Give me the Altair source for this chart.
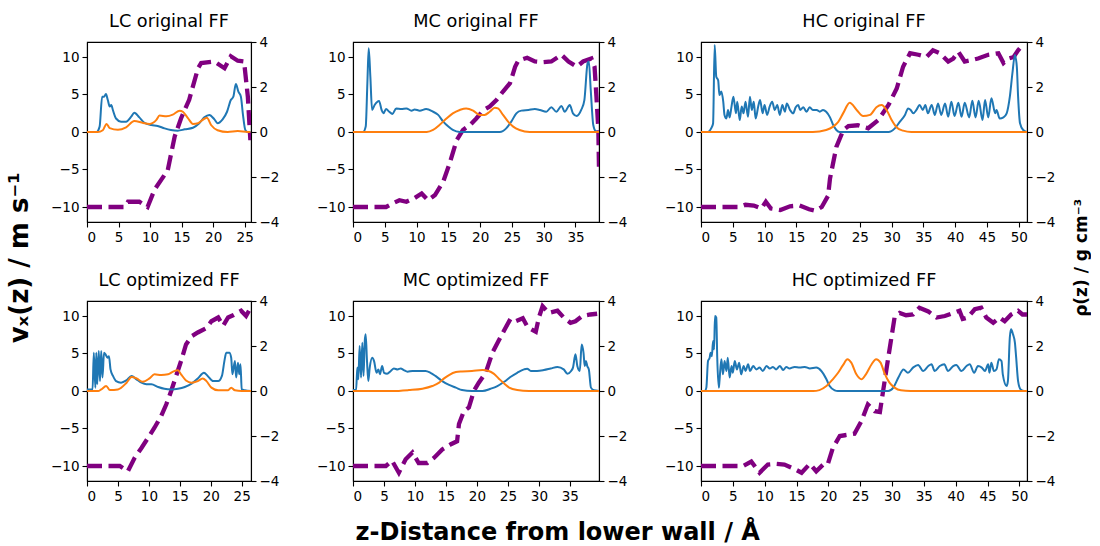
import altair as alt
import pandas as pd

# ---------------- data ----------------
# velocity profiles v_x(z) [m/s]  (left axis), pairs of (z, v)
LC_ORIG_V = [(0, -10), (6, -10), (6.5, -9.3), (8.3, -9.3), (9.6, -10), (10.7, -7.7), (12.8, -5.1),
             (13.9, -0.6), (14.9, 1.8), (16.2, 4.3), (17.6, 8.5), (18.1, 9.2), (20.2, 9.4), (21.8, 8.5),
             (22.8, 10.1), (23.9, 9.5), (24.9, 9.4), (25.5, 4.7), (25.9, -1.1)]
MC_ORIG_V = [(0, -10), (5.2, -10), (6.3, -9.5), (7.3, -9.1), (8.4, -9.3), (9.7, -8.8), (10.8, -8.2),
             (11.8, -9.1), (12.9, -8.4), (14.2, -6.6), (15.2, -4.2), (16.3, -1.1), (17.3, 0.27),
             (18.4, 0.93), (19.4, 1.8), (20.5, 2.9), (21.5, 3.4), (22.6, 4.3), (23.6, 5.4), (24.7, 6.5),
             (25.5, 8.7), (26.0, 9.5), (27.4, 9.9), (28.6, 9.4), (29.9, 9.3), (31.2, 9.4), (32.8, 10.3),
             (33.9, 9.4), (35.2, 8.7), (36.2, 9.4), (37.5, 9.8), (38.0, 8.7), (38.3, 4.7), (38.6, 0.27),
             (38.7, -5.1)]
HC_ORIG_V = [(0, -10), (6, -10), (7, -9.7), (8.3, -9.8), (9.5, -10.2), (10.2, -9.3), (11, -10.2),
             (12.5, -10.4), (14, -9.9), (15.5, -9.8), (17, -10.3), (18, -10.5), (19, -10.0), (20, -8.5),
             (20.3, -6.2), (21.3, -2.0), (22.4, 0.27), (23.2, 0.8), (24.7, 0.9), (26.3, 0.5), (27.9, 1.6),
             (29.5, 3.6), (30.8, 5.8), (31.8, 8.7), (32.9, 10.5), (34.2, 10.3), (35.5, 10.0), (36.5, 10.9),
             (37.6, 10.5), (38.9, 9.4), (39.7, 9.8), (40.5, 10.7), (41.5, 9.4), (42.6, 9.6), (43.6, 9.8),
             (45.2, 10.3), (46.8, 10.5), (47.6, 9.2), (48.4, 9.8), (49.2, 10.0), (49.9, 10.9), (50.2, 11.2)]
LC_OPT_V = [(0, -10), (5.3, -10), (6.6, -10.7), (7.7, -8.9), (8.8, -7.6), (9.9, -6.2), (10.9, -4.9),
            (12.0, -3.3), (12.8, -1.8), (13.6, 0), (14.4, 2.0), (15.2, 4.0), (16.0, 6.2), (16.9, 7.3),
            (17.9, 7.8), (19.3, 8.4), (20.1, 9.3), (21.2, 9.8), (22.0, 8.7), (22.8, 9.8), (23.6, 10.1),
            (24.9, 10.7), (25.7, 10.0), (26.3, 10.9)]
MC_OPT_V = [(0, -10), (5.3, -10), (6.3, -9.3), (7.4, -10.9), (8.5, -9.1), (9.6, -8.2), (10.6, -9.6),
            (12.0, -9.6), (13.1, -8.9), (14.4, -7.8), (15.8, -7.1), (16.8, -6.7), (17.1, -4.4), (17.9, -2.7),
            (18.7, -2.2), (19.5, 0), (20.3, 1.1), (21.4, 2.4), (22.5, 5.1), (23.5, 6.7), (24.6, 8.4),
            (25.4, 9.6), (26.2, 9.3), (27.4, 9.7), (28.2, 8.5), (29.5, 7.9), (30.0, 9.8), (30.6, 11.3),
            (31.6, 10.4), (33.0, 10.7), (34.0, 9.8), (35.1, 9.1), (35.9, 9.3), (37.0, 10.0), (38.3, 10.2),
            (39.4, 10.3)]
HC_OPT_V = [(0, -10), (6.6, -10), (7.9, -9.4), (9.2, -10.9), (10.5, -9.8), (11.8, -9.7), (13.1, -9.8),
            (14.7, -10.4), (15.8, -10.9), (17.1, -9.7), (18.1, -10.7), (19.2, -9.8), (19.9, -9.8),
            (20.7, -7.6), (21.8, -6.0), (22.6, -5.9), (24.1, -5.7), (25.2, -4.0), (26.2, -1.8), (27.3, -2.7),
            (28.1, -2.8), (28.6, 0), (29.4, 4.4), (30.4, 9.8), (31.2, 10.4), (32.2, 10.1), (33.3, 10.2),
            (34.3, 11.1), (35.7, 10.6), (37.0, 9.8), (38.3, 10.0), (39.6, 10.4), (40.6, 10.7), (41.1, 9.6),
            (41.9, 9.8), (43.0, 10.9), (44.0, 11.1), (44.8, 9.8), (45.9, 9.1), (46.9, 9.8), (47.7, 9.3),
            (48.7, 10.2), (49.8, 10.7), (50.5, 10.2), (51.2, 10.2)]

# density profiles rho(z) [g/cm3] (right axis): blue series
LC_ORIG_B = [(0, 0), (1.5, 0), (2.0, 0.24), (2.4, 1.57), (2.7, 1.57), (3.0, 1.69), (3.3, 1.42), (3.6, 1.13),
             (3.85, 1.2), (4.1, 0.98), (4.6, 0.6), (5.4, 0.46), (6.2, 0.46), (7.0, 0.68), (7.5, 0.86),
             (8.3, 0.65), (9.1, 0.41), (10.2, 0.31), (11.2, 0.27), (12.3, 0.16), (13.3, 0.09), (14.4, 0.06),
             (15.5, 0.12), (16.8, 0.19), (17.8, 0.39), (18.6, 0.65), (19.4, 0.76), (20.2, 0.56), (20.7, 0.39),
             (21.5, 0.56), (22.2, 0.9), (22.8, 1.42), (23.2, 1.57), (23.6, 2.13), (24.0, 1.79), (24.4, 1.57),
             (24.7, 0.83), (25.1, 0.09), (25.5, 0), (25.9, 0)]
MC_ORIG_B = [(0, 0), (1.6, 0), (2.0, 0.24), (2.26, 2.16), (2.47, 3.72), (2.73, 2.46), (3.0, 0.98), (3.4, 1.2),
             (4.1, 1.38), (4.5, 0.98), (4.8, 0.83), (5.2, 1.02), (5.7, 0.9), (6.2, 0.8), (6.8, 1.05),
             (7.6, 1.02), (8.4, 1.05), (9.2, 0.95), (9.7, 1.0), (10.5, 0.95), (11.5, 1.02), (12.6, 0.9),
             (13.4, 0.76), (14.2, 0.46), (15.0, 0.24), (15.7, 0.09), (16.8, 0.0), (23.1, 0.0), (24.1, 0.16),
             (24.9, 0.46), (25.7, 0.83), (26.5, 0.95), (27.6, 0.98), (28.6, 1.02), (29.4, 0.98), (30.4, 0.9),
             (31.2, 1.1), (32.0, 0.9), (32.8, 1.16), (33.3, 0.9), (34.1, 1.2), (34.6, 0.83), (35.2, 0.71),
             (35.9, 0.98), (36.4, 1.42), (36.9, 3.05), (37.1, 3.13), (37.4, 1.87), (37.8, 0.31), (38.2, 0.03),
             (38.7, 0)]
HC_ORIG_B = [(0, 0), (1.1, 0), (1.6, 0.16), (1.9, 0.38), (2.15, 3.87), (2.4, 2.46), (2.7, 2.3), (2.9, 1.64),
             (3.2, 1.8), (3.5, 1.35), (3.7, 0.76), (4.0, 0.6), (4.25, 0.98), (4.5, 0.65), (4.8, 1.13),
             (5.1, 1.57), (5.5, 0.83), (5.7, 1.35), (6.1, 0.53), (6.4, 1.13), (6.7, 0.83), (7.0, 1.35),
             (7.4, 0.68), (7.7, 1.57), (8.0, 0.98), (8.3, 1.35), (8.6, 0.6), (9.0, 1.13), (9.3, 1.42),
             (9.7, 0.83), (10.0, 1.2), (10.4, 0.76), (10.8, 1.13), (11.2, 1.35), (11.6, 0.98), (12.0, 1.2),
             (12.4, 0.76), (12.8, 1.2), (13.2, 0.9), (13.5, 1.27), (14.0, 0.98), (14.5, 0.83), (14.9, 1.1),
             (15.3, 1.2), (15.6, 0.98), (16.1, 1.1), (16.6, 0.9), (17.1, 1.1), (17.6, 0.98), (18.2, 0.98),
             (18.7, 0.9), (19.2, 0.98), (19.7, 0.9), (20.3, 0.65), (20.8, 0.31), (21.3, 0.09), (21.8, 0),
             (29.5, 0), (30.5, 0.16), (31.3, 0.46), (32.1, 0.76), (32.6, 1.05), (33.0, 0.98), (33.4, 0.83),
             (33.9, 0.98), (34.4, 1.2), (34.9, 0.98), (35.3, 1.2), (35.7, 0.83), (36.3, 1.2), (36.8, 0.76),
             (37.3, 1.27), (37.8, 0.76), (38.4, 1.27), (38.9, 0.68), (39.4, 1.35), (39.9, 0.71), (40.5, 1.3),
             (41.0, 0.68), (41.5, 1.3), (42.2, 0.65), (42.7, 1.39), (43.2, 0.65), (43.7, 1.39), (44.3, 0.53),
             (44.7, 1.42), (45.2, 0.65), (45.7, 1.5), (46.3, 0.83), (46.5, 0.98), (47.0, 0.6), (47.6, 0.65),
             (48.1, 0.83), (48.6, 1.57), (49.0, 2.6), (49.4, 3.42), (49.7, 2.9), (49.9, 1.57), (50.2, 0.39),
             (50.7, 0.09), (51.3, 0)]
LC_OPT_B = [(0, 0.07), (0.9, 0.07), (1.1, 1.7), (1.35, 0.15), (1.5, 1.7), (1.65, 0.3), (1.9, 1.78),
            (2.1, 0.45), (2.3, 1.78), (2.5, 0.6), (2.75, 1.7), (3.0, 1.63), (3.3, 1.48), (3.55, 1.55),
            (3.8, 0.96), (4.2, 0.67), (4.7, 0.44), (5.5, 0.37), (6.35, 0.47), (7.2, 0.67), (8.0, 0.52),
            (8.8, 0.37), (9.6, 0.3), (10.4, 0.3), (11.5, 0.18), (12.5, 0.1), (13.6, 0.07), (14.7, 0.1),
            (15.8, 0.18), (16.9, 0.33), (17.9, 0.56), (18.9, 0.81), (19.5, 0.67), (20.4, 0.44), (21.2, 0.44),
            (21.8, 0.67), (22.2, 1.33), (22.5, 1.7), (23.0, 1.7), (23.3, 1.48), (23.5, 0.74), (23.9, 1.33),
            (24.1, 0.6), (24.4, 1.26), (24.6, 0.74), (24.8, 1.19), (25.0, 0.07), (25.5, 0.03), (26.5, 0)]
MC_OPT_B = [(0, 0.04), (0.5, 0.04), (0.7, 1.04), (0.86, 0.52), (1.07, 2.0), (1.3, 0.6), (1.5, 2.15),
            (1.7, 0.67), (1.9, 2.22), (2.04, 2.52), (2.26, 1.33), (2.47, 0.44), (2.7, 1.04), (3.1, 1.48),
            (3.4, 1.33), (3.8, 0.81), (4.1, 0.96), (4.35, 0.74), (4.7, 1.11), (5.0, 0.81), (5.5, 0.77),
            (6.1, 0.89), (6.6, 1.0), (7.2, 0.96), (7.7, 1.0), (8.2, 0.93), (8.8, 0.86), (9.6, 0.89),
            (10.6, 0.89), (11.7, 0.89), (12.5, 0.81), (13.3, 0.67), (14.4, 0.44), (15.5, 0.27), (16.6, 0.15),
            (17.6, 0.04), (19.2, 0.0), (20.9, 0.0), (22.2, 0.1), (23.3, 0.22), (24.4, 0.41), (25.4, 0.62),
            (26.5, 0.81), (27.6, 0.96), (28.1, 0.99), (28.7, 0.89), (29.7, 0.89), (30.8, 0.93), (31.9, 1.0),
            (33.0, 1.07), (34.0, 0.96), (34.6, 0.77), (35.2, 0.89), (35.5, 1.04), (35.9, 1.63), (36.2, 1.11),
            (36.6, 0.89), (36.9, 2.07), (37.2, 1.7), (37.4, 1.11), (37.6, 1.33), (37.8, 1.11), (38.06, 0.96),
            (38.4, 0.15), (38.9, 0.03), (39.7, 0)]
HC_OPT_B = [(0, 0), (0.6, 0), (0.84, 0.15), (1.1, 1.33), (1.36, 1.48), (1.5, 1.7), (1.7, 1.55),
            (1.9, 2.22), (2.05, 1.85), (2.2, 3.33), (2.4, 3.26), (2.55, 1.48), (2.8, 0.15), (2.9, 0.44),
            (3.2, 1.41), (3.45, 0.74), (3.7, 1.33), (4.0, 0.89), (4.2, 1.48), (4.5, 0.6), (4.8, 1.11),
            (5.0, 0.81), (5.3, 1.33), (5.65, 0.96), (6.0, 1.26), (6.3, 0.74), (6.7, 1.11), (7.0, 0.89),
            (7.4, 1.19), (7.7, 0.89), (8.2, 1.11), (8.7, 0.96), (9.2, 1.04), (9.7, 0.89), (10.3, 1.11),
            (10.8, 1.0), (11.3, 1.07), (11.8, 0.96), (12.4, 1.11), (12.9, 0.93), (13.4, 1.07), (13.9, 1.0),
            (14.7, 1.07), (15.5, 1.04), (16.3, 1.07), (17.1, 1.0), (18.1, 1.04), (18.9, 0.89), (19.7, 0.52),
            (20.2, 0.22), (21.0, 0.03), (21.5, 0), (29.4, 0), (30.2, 0.15), (31.0, 0.6), (31.8, 0.96),
            (32.5, 0.81), (33.3, 1.04), (34.1, 1.16), (34.9, 0.89), (35.7, 1.11), (36.2, 1.19), (36.7, 0.89),
            (37.5, 1.11), (38.2, 1.19), (38.8, 0.89), (39.6, 1.11), (40.1, 1.16), (40.9, 0.89), (41.7, 1.11),
            (42.2, 1.19), (42.9, 0.81), (43.5, 1.11), (44.1, 1.04), (44.6, 0.89), (45.1, 1.19), (45.3, 0.81),
            (45.6, 1.26), (46.0, 0.89), (46.4, 0.96), (46.8, 1.41), (47.2, 1.33), (47.4, 0.74), (48.0, 0.22),
            (48.2, 0.44), (48.5, 2.37), (48.7, 2.74), (49.0, 2.52), (49.3, 2.15), (49.5, 1.48), (49.8, 0.44),
            (50.2, 0.07), (50.8, 0), (51.2, 0)]

# density profiles rho(z): orange series
LC_ORIG_O = [(0, 0), (1.7, 0), (2.5, 0.08), (3.1, 0.36), (3.6, 0.17), (4.9, 0.1), (6.2, 0.21), (7.5, 0.49),
             (8.9, 0.4), (9.9, 0.36), (11.0, 0.54), (11.5, 0.73), (12.6, 0.7), (13.6, 0.77), (14.7, 0.95),
             (15.2, 0.9), (16.0, 0.62), (16.8, 0.36), (17.6, 0.39), (18.6, 0.59), (19.0, 0.63), (19.7, 0.3),
             (20.7, 0.08), (22.3, 0.0), (23.9, 0.04), (25.5, 0), (25.9, 0)]
MC_ORIG_O = [(0, 0), (11.6, 0), (12.6, 0.09), (13.6, 0.31), (14.7, 0.6), (15.7, 0.83), (16.8, 0.98),
             (17.8, 1.05), (18.9, 0.95), (19.9, 0.76), (20.7, 0.76), (21.5, 0.9), (22.3, 1.08), (22.8, 1.05),
             (23.6, 0.76), (24.4, 0.46), (25.2, 0.24), (26.2, 0.09), (27.8, 0), (38.7, 0)]
HC_ORIG_O = [(0, 0), (17.6, 0), (19.7, 0.09), (20.8, 0.24), (21.6, 0.45), (22.4, 0.85), (23.4, 1.3),
             (24.5, 0.98), (25.5, 0.71), (26.6, 0.76), (27.6, 1.1), (28.4, 1.2), (29.2, 0.98), (30.0, 0.53),
             (30.8, 0.2), (31.8, 0.06), (33.1, 0), (51.3, 0)]
LC_OPT_O = [(0, 0), (1.8, 0), (2.3, 0.07), (3.1, 0.22), (3.7, 0.04), (5.0, 0.07), (6.4, 0.37), (7.2, 0.62),
            (8.0, 0.56), (9.0, 0.41), (10.1, 0.56), (10.9, 0.74), (12.0, 0.71), (13.1, 0.74), (13.9, 0.86),
            (14.7, 0.92), (15.2, 0.74), (16.0, 0.47), (16.9, 0.37), (17.9, 0.44), (18.7, 0.56), (19.3, 0.44),
            (20.1, 0.15), (21.2, 0.03), (22.8, 0.03), (23.3, 0.15), (23.9, 0.03), (25.0, 0), (26.5, 0)]
MC_OPT_O = [(0, 0), (6.3, 0), (9.0, 0.04), (11.2, 0.1), (12.8, 0.22), (13.9, 0.37), (14.7, 0.56),
            (15.5, 0.71), (16.6, 0.84), (17.6, 0.87), (19.2, 0.89), (20.9, 0.93), (21.9, 0.89), (22.7, 0.77),
            (23.5, 0.56), (24.4, 0.33), (25.2, 0.15), (26.5, 0.04), (28.4, 0), (39.7, 0)]
HC_OPT_O = [(0, 0), (17.6, 0), (18.6, 0.04), (19.7, 0.22), (20.7, 0.52), (21.5, 0.8), (22.3, 1.15),
            (23.0, 1.41), (23.6, 1.26), (24.4, 0.74), (25.2, 0.52), (25.9, 0.74), (26.8, 1.19), (27.5, 1.41),
            (28.2, 1.26), (28.8, 0.81), (29.6, 0.37), (30.4, 0.15), (31.4, 0.03), (32.9, 0), (51.2, 0)]

TITLES = ["LC original FF", "MC original FF", "HC original FF",
          "LC optimized FF", "MC optimized FF", "HC optimized FF"]
XMAX = [26.0, 38.7, 51.3, 26.5, 39.7, 51.2]
WIDTHS = [164, 246, 326]
V_TICKS = [-10, -5, 0, 5, 10]
RHO_TICKS = [-4, -2, 0, 2, 4]

SERIES = [
    (LC_ORIG_V, LC_ORIG_B, LC_ORIG_O), (MC_ORIG_V, MC_ORIG_B, MC_ORIG_O), (HC_ORIG_V, HC_ORIG_B, HC_ORIG_O),
    (LC_OPT_V, LC_OPT_B, LC_OPT_O), (MC_OPT_V, MC_OPT_B, MC_OPT_O), (HC_OPT_V, HC_OPT_B, HC_OPT_O),
]

FONT = "DejaVu Sans"


def to_df(pairs):
    return pd.DataFrame(pairs, columns=["z", "val"])


def panel(i):
    v, b, o = SERIES[i]
    xmax = XMAX[i]
    ticks = list(range(0, int(xmax) + 1, 5))
    xenc = alt.X("z:Q", scale=alt.Scale(domain=[0, xmax], nice=False, zero=False),
                 axis=alt.Axis(values=ticks, title=None, format="d"))
    vel = alt.Chart(to_df(v)).mark_line(color="#800080", strokeWidth=4.3, strokeDash=[15, 6.5],
                                          clip=True).encode(
        x=xenc,
        y=alt.Y("val:Q", scale=alt.Scale(domain=[-12, 12], nice=False),
                axis=alt.Axis(values=V_TICKS, title=None, orient="left")),
    )
    ry = alt.Y("val:Q", scale=alt.Scale(domain=[-4, 4], nice=False),
               axis=alt.Axis(values=RHO_TICKS, title=None, orient="right"))
    blue = alt.Chart(to_df(b)).mark_line(color="#1f77b4", strokeWidth=2, interpolate="monotone",
                                         clip=True).encode(x=xenc, y=ry)
    orange = alt.Chart(to_df(o)).mark_line(color="#ff7f0e", strokeWidth=2, interpolate="monotone",
                                           clip=True).encode(x=xenc, y=ry)
    dens = alt.layer(blue, orange)
    return alt.layer(vel, dens).resolve_scale(y="independent").properties(
        width=WIDTHS[i % 3], height=180,
        title=alt.TitleParams(TITLES[i], fontSize=17.7, font=FONT, fontWeight="normal", offset=4),
    )


grid = alt.concat(*[panel(i) for i in range(6)], columns=3,
                  spacing=alt.RowColnumber(row=79, column=102), bounds="flush").properties(
    title=alt.TitleParams("vₓ(z)  /  m s⁻¹", orient="left", anchor="middle",
                          fontSize=26, fontWeight="bold", font=FONT, offset=17)
)
mid = alt.hconcat(grid).properties(
    title=alt.TitleParams("ρ(z)   /   g  cm⁻³", orient="right", anchor="middle", angle=270,
                          fontSize=17, fontWeight="bold", font=FONT, offset=2)
)
chart = alt.hconcat(mid).properties(
    title=alt.TitleParams("z-Distance from lower wall / Å", orient="bottom", anchor="middle",
                          fontSize=24, fontWeight="bold", font=FONT, offset=18, dx=9),
    padding={"left": 6, "top": 12, "right": 0, "bottom": 0},
).configure_axis(
    labelFont=FONT, labelFontSize=13.5, labelColor="black", tickColor="black", domainColor="black",
    tickSize=5, labelPadding=3, grid=False, domainWidth=1.1, tickWidth=1.1,
).configure_view(stroke="black", strokeWidth=1.1).configure_title(color="black")

chart.save("out.html", embed_options={"renderer": "svg", "actions": False})
